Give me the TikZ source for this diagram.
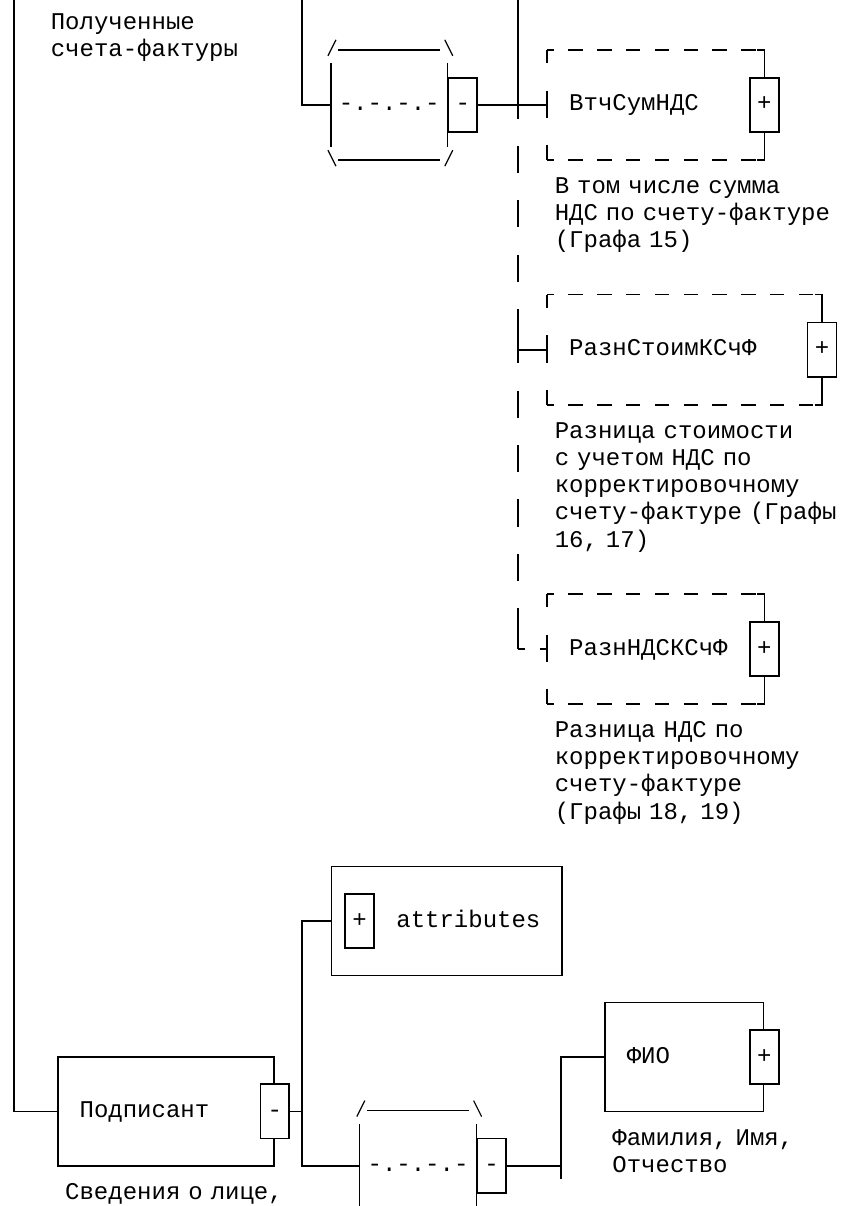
\documentclass[tikz,border=0pt]{standalone}
\usepackage{fontspec}
\newfontfamily\cellfont{Liberation Mono}
\begin{document}
\begin{tikzpicture}[
  x=14.4pt, y=-27.2pt,
  line width=1.6pt,
  every node/.style={font=\cellfont\fontsize{24pt}{27.2pt}\selectfont, inner sep=0pt},
  elem/.style={anchor=west, inner xsep=21.6pt, minimum height=108.8pt, text height=18pt, text depth=6pt, align=left},
  sign/.style={draw, fill=white, minimum width=28.8pt, minimum height=54.4pt, text height=18pt, text depth=6pt},
  choice/.style={anchor=west, minimum width=115.2pt, minimum height=108.8pt},
  seq/.style={anchor=west, text height=18pt, text depth=6pt},
  desc/.style={anchor=base west, text width=300pt, align=left},
  slash/.style={line width=1.2pt},
  hdash/.style={dash pattern=on 14.4pt off 14.4pt, dash phase=7.2pt},
  edash/.style={dash pattern=on 27.2pt off 27.2pt, dash phase=13.6pt},
  vdash/.style={dash pattern=on 27.2pt off 27.2pt},
  optline/.style={dash pattern=on 7.2pt off 14.4pt}
]
\useasboundingbox (-0.9722,-0.8603) rectangle (57.9861,43.4779);

% elements
\node[elem, text width=172.8pt] (vtch) at (37,3) {ВтчСумНДС};
\node[elem, text width=230.4pt] (razst) at (37,12) {РазнСтоимКСчФ};
\node[elem, text width=172.8pt] (raznds) at (37,23) {РазнНДСКСчФ};
\node[elem, draw, text width=172.8pt] (podp) at (3,40) {Подписант};
\node[elem, draw, text width=187.2pt, align=right] (attr) at (22,33) {attributes};
\node[elem, draw, text width=115.2pt] (fio) at (41,38) {ФИО};
\node[choice] (ch1) at (22,3) {};
\node[choice] (ch2) at (24,42) {};

% optional elements
\foreach \b in {vtch, razst, raznds} {
  \draw[hdash] (\b.north west) -- (\b.north east);
  \draw[hdash] (\b.south west) -- (\b.south east);
  \draw[edash] (\b.north west) -- (\b.south west);
  \draw ([xshift=-7.2pt]\b.north east) -- (\b.north east) -- (\b.south east) -- ([xshift=-7.2pt]\b.south east);
}

% choice groups
\foreach \g in {ch1, ch2} {
  \draw ([xshift=7.2pt]\g.north west) -- ([xshift=-7.2pt]\g.north east);
  \draw ([xshift=7.2pt]\g.south west) -- ([xshift=-7.2pt]\g.south east);
  \draw ([yshift=-13.6pt]\g.north west) -- ([yshift=13.6pt]\g.south west);
  \draw ([yshift=-13.6pt]\g.north east) -- ([yshift=13.6pt]\g.south east);
  \draw[slash] ([shift={(-2.8pt,-6pt)}]\g.north west) -- ++(8pt,16pt);
  \draw[slash] ([shift={(-2.8pt,10pt)}]\g.north east) -- ++(8pt,-16pt);
  \draw[slash] ([shift={(-2.8pt,10pt)}]\g.south west) -- ++(8pt,-16pt);
  \draw[slash] ([shift={(-2.8pt,-6pt)}]\g.south east) -- ++(8pt,16pt);
  \node[seq] (\g-seq) at ([xshift=7.2pt]\g.west) {-.-.-.-};
}

% +/- boxes
\foreach \b/\m in {vtch/+, razst/+, raznds/+, podp/-, fio/+}
  \node[sign] (\b-sign) at (\b.east) {\m};
\node[sign] (attr-sign) at ([xshift=28.8pt]attr.west) {+};
\node[sign, anchor=west] (ch1-sign) at (ch1.east) {-};
\node[sign, anchor=west] (ch2-sign) at (ch2.east) {-};

% connectors
\coordinate (bus2) at (35,12);
\coordinate (bus3) at (35,23);
\coordinate (join1) at (20,40);
\coordinate (join2) at (38,42);
\draw (0,-0.9) |- (podp.west);
\draw (20,-0.9) |- (ch1.west);
\draw (ch1-sign.east) -- (vtch.west);
\draw (35,-0.9) -- (35,3.5);
\draw[vdash] (35,4.5) -- (35,11.5);
\draw (35,11.5) -- (35,12.5) (bus2) -- (razst.west);
\draw[vdash] (35,13.5) -- (35,22.5);
\draw (35,22.5) -- (bus3);
\draw[optline] (bus3) -- (raznds.west);
\draw (podp-sign.east) -- (join1);
\draw (attr.west) -- ++(-2,0) |- (ch2.west);
\draw (ch2-sign.east) -- (join2);
\draw (fio.west) -| (38,42.5);

% descriptions
\node[desc] (top-d) at (2.5,0.22) {Полученные\\счета-фактуры};
\node[desc] (vtch-d) at ([shift={(7.2pt,-33.2pt)}]vtch.south west) {В том числе сумма\\НДС по счету-фактуре\\(Графа 15)};
\node[desc] (razst-d) at ([shift={(7.2pt,-33.2pt)}]razst.south west) {Разница стоимости\\с учетом НДС по\\корректировочному\\счету-фактуре (Графы\\16, 17)};
\node[desc] (raznds-d) at ([shift={(7.2pt,-33.2pt)}]raznds.south west) {Разница НДС по\\корректировочному\\счету-фактуре\\(Графы 18, 19)};
\node[desc] (podp-d) at ([shift={(7.2pt,-33.2pt)}]podp.south west) {Сведения о лице,};
\node[desc] (fio-d) at ([shift={(7.2pt,-33.2pt)}]fio.south west) {Фамилия, Имя,\\Отчество};
\end{tikzpicture}
\end{document}
